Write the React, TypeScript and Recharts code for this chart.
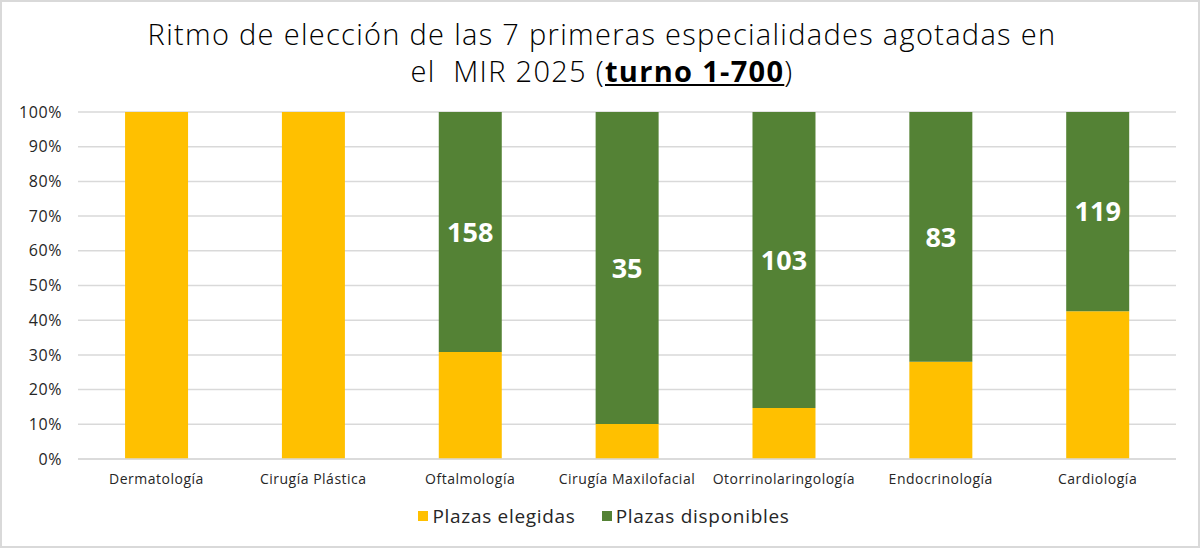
import React from 'react';
import { BarChart, Bar, XAxis, YAxis, CartesianGrid, Legend, LabelList } from 'recharts';

const especialidades = [
  'Dermatología',
  'Cirugía Plástica',
  'Oftalmología',
  'Cirugía Maxilofacial',
  'Otorrinolaringología',
  'Endocrinología',
  'Cardiología',
];
// % de plazas elegidas / disponibles al turno 700
const elegidas = [100, 100, 30.8, 10.1, 14.7, 28.0, 42.6];
const disponibles = [0, 0, 69.2, 89.9, 85.3, 72.0, 57.4];
// plazas que quedaban libres
const plazasLibres = [null, null, 158, 35, 103, 83, 119];
const yTicks = [0, 10, 20, 30, 40, 50, 60, 70, 80, 90, 100];

const SERIES = [
  { key: 'elegidas', name: 'Plazas elegidas', color: '#FFC000' },
  { key: 'disponibles', name: 'Plazas disponibles', color: '#548235' },
];
const FONT = '"Open Sans", sans-serif';

const data = especialidades.map((name, i) => ({
  name,
  elegidas: elegidas[i],
  disponibles: disponibles[i],
  libres: plazasLibres[i],
}));

const LegendBox = () => (
  <div style={{ display: 'flex', justifyContent: 'center', gap: 26, fontSize: 19, letterSpacing: 0.7, color: '#262626' }}>
    {SERIES.map(s => (
      <div key={s.key} style={{ display: 'flex', alignItems: 'center' }}>
        <span style={{ width: 10, height: 10, background: s.color, marginRight: 4, display: 'inline-block' }} />
        <span>{s.name}</span>
      </div>
    ))}
  </div>
);

const App: React.FC = () => {
  return (
    <div
      style={{
        position: 'absolute',
        left: 0,
        top: 0,
        width: 1200,
        height: 548,
        background: '#fff',
        boxSizing: 'border-box',
        border: '2px solid #d9d9d9',
        fontFamily: FONT,
      }}
    >
      {/* Title */}
      <div
        style={{
          position: 'absolute',
          top: 13,
          left: 0,
          width: 1200,
          textAlign: 'center',
          fontSize: 29,
          letterSpacing: 1.3,
          lineHeight: '37px',
          color: '#000',
          fontWeight: 300,
        }}
      >
        <div>Ritmo de elección de las 7 primeras especialidades agotadas en</div>
        <div>
          el&nbsp; MIR 2025 (<span style={{ fontWeight: 700, textDecoration: 'underline' }}>turno 1-700</span>)
        </div>
      </div>

      <div style={{ position: 'absolute', left: -2, top: -2 }}>
        <BarChart
          width={1200}
          height={548}
          data={data}
          margin={{ top: 112, right: 24, bottom: 33, left: 0 }}
          barCategoryGap="30%"
        >
          <CartesianGrid vertical={false} stroke="#d9d9d9" strokeWidth={1.5} />
          <XAxis
            dataKey="name"
            height={30}
            axisLine={{ stroke: '#d9d9d9', strokeWidth: 1.5 }}
            tickLine={false}
            tickMargin={9}
            tick={{ fill: '#262626', fontSize: 14, letterSpacing: 0.5, fontFamily: FONT }}
            interval={0}
          />
          <YAxis
            width={78}
            domain={[0, 100]}
            ticks={yTicks}
            tickFormatter={(v: number) => `${v}%`}
            axisLine={false}
            tickLine={false}
            tickSize={0}
            tickMargin={16}
            tick={{ fill: '#262626', fontSize: 16, letterSpacing: 0.6, fontFamily: FONT }}
          />
          <Legend verticalAlign="bottom" align="center" content={LegendBox} wrapperStyle={{ bottom: 19, left: 16 }} />
          {SERIES.map(s => (
            <Bar
              key={s.key}
              dataKey={s.key}
              name={s.name}
              stackId="a"
              fill={s.color}
              isAnimationActive={false}
            >
              {s.key === 'disponibles' && (
                <LabelList
                  dataKey="libres"
                  position="center"
                  fill="#fff"
                  fontSize={27}
                  fontWeight={700}
                  fontFamily={FONT}
                />
              )}
            </Bar>
          ))}
        </BarChart>
      </div>
    </div>
  );
};

export default App;
